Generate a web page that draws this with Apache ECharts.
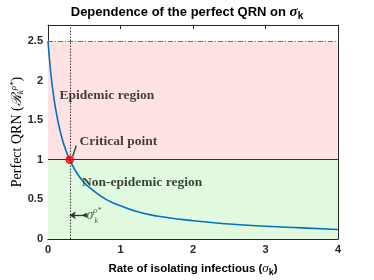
<!DOCTYPE html>
<html>
<head>
<meta charset="utf-8">
<script src="https://cdn.jsdelivr.net/npm/echarts@6/dist/echarts.min.js"></script>
<style>html,body{margin:0;padding:0;background:#fff}#c{width:374px;height:280px}</style>
</head>
<body>
<div id="c"></div>
<script>
// Values
const sigmaValues = [0, 0.025, 0.05, 0.075, 0.1, 0.15, 0.2, 0.25, 0.3, 0.4, 0.5, 0.6, 0.8, 1.0, 1.25, 1.5, 2.0, 2.5, 3.0, 3.5, 4.0];
const qrnValues   = [2.5, 2.22, 2.0, 1.82, 1.67, 1.43, 1.25, 1.11, 1.0, 0.83, 0.71, 0.63, 0.5, 0.42, 0.34, 0.29, 0.23, 0.19, 0.16, 0.14, 0.12];
const criticalPoint = [0.3, 1.0];
const upperLevel = 2.5;
const thresholdLevel = 1.0;
const xTickLabels = [0, 1, 2, 3, 4];
const yTickLabels = [0, 0.5, 1, 1.5, 2, 2.5];
const annotations = [
  { name: 'Epidemic region', value: [0.16, 1.81] },
  { name: 'Critical point', value: [0.435, 1.23] },
  { name: 'Non-epidemic region', value: [0.47, 0.71] }
];
const calloutLine = [[0.34, 1.04], [0.39, 1.18]];
const sigmaArrow = [[0.5, 0.3], [0.3, 0.3]];
const sigmaLabelPos = [0.53, 0.3];

const curve = sigmaValues.map((x, i) => [x, qrnValues[i]]);
const chart = echarts.init(document.getElementById('c'), null, { renderer: 'canvas' });
const axisColor = '#262626';
const sans = 'Liberation Sans';
const serif = 'Liberation Serif';

const yFmt = v => (yTickLabels.some(t => Math.abs(t - v) < 1e-9) ? String(v) : '');

chart.setOption({
  animation: false,
  title: {
    text: '{t|Dependence of the perfect QRN on }{s|σ}{k|k}',
    left: 'center', top: -2,
    textStyle: {
      rich: {
        t: { fontFamily: sans, fontWeight: 'bold', fontSize: 13, color: '#000' },
        s: { fontFamily: serif, fontStyle: 'italic', fontSize: 15, color: '#000' },
        k: { fontFamily: sans, fontWeight: 'bold', fontSize: 10, color: '#000', padding: [8, 0, 0, 0] }
      }
    }
  },
  grid: { left: 48, right: 36, top: 25, bottom: 41, containLabel: false, outerBoundsMode: 'none' },
  xAxis: [{
    type: 'value', min: 0, max: 4, interval: 1,
    name: '{t|Rate of isolating infectious (}{s|σ}{k|k}{t|)}',
    nameLocation: 'middle', nameGap: 22,
    nameTextStyle: {
      rich: {
        t: { fontFamily: sans, fontWeight: 'bold', fontSize: 11.5, color: '#000' },
        s: { fontFamily: serif, fontStyle: 'italic', fontSize: 13, color: '#000' },
        k: { fontFamily: sans, fontWeight: 'bold', fontSize: 9, color: '#000', padding: [7, 0, 0, 0] }
      }
    },
    axisLine: { show: true, onZero: false, lineStyle: { color: axisColor, width: 1 } },
    axisTick: { show: true, inside: true, length: 4, lineStyle: { color: axisColor } },
    axisLabel: { margin: 5, fontFamily: sans, fontWeight: 'bold', fontSize: 11, color: axisColor,
      formatter: v => (xTickLabels.includes(v) ? String(v) : '') },
    splitLine: { show: false }
  }, {
    type: 'value', min: 0, max: 4, interval: 1, position: 'top',
    axisLine: { show: true, onZero: false, lineStyle: { color: axisColor, width: 1 } },
    axisTick: { show: true, inside: true, length: 4, lineStyle: { color: axisColor } },
    axisLabel: { show: false }, splitLine: { show: false }
  }],
  yAxis: [{
    type: 'value', min: 0, max: 2.7, interval: 0.5,
    name: '{a|Perfect QRN (}{r|ℛ}{b|k}{c|ρ*}{a|)}',
    nameLocation: 'middle', nameGap: 22, nameRotate: 90, nameMoveOverlap: false,
    nameTextStyle: {
      rich: {
        a: { fontFamily: serif, fontSize: 14, color: '#000' },
        r: { fontFamily: serif, fontStyle: 'italic', fontSize: 14, color: '#000' },
        b: { fontFamily: serif, fontStyle: 'italic', fontSize: 9, color: '#000', padding: [7, 0, 0, 0] },
        c: { fontFamily: serif, fontStyle: 'italic', fontSize: 9, color: '#000', padding: [0, 0, 8, 0] }
      }
    },
    axisLine: { show: true, onZero: false, lineStyle: { color: axisColor, width: 1 } },
    axisTick: { show: true, inside: true, length: 4, lineStyle: { color: axisColor } },
    axisLabel: { margin: 5, fontFamily: sans, fontWeight: 'bold', fontSize: 11, color: axisColor, formatter: yFmt },
    splitLine: { show: false }
  }, {
    type: 'value', min: 0, max: 2.7, interval: 0.5, position: 'right',
    axisLine: { show: true, onZero: false, lineStyle: { color: axisColor, width: 1 } },
    axisTick: { show: true, inside: true, length: 4, lineStyle: { color: axisColor } },
    axisLabel: { show: false }, splitLine: { show: false }
  }],
  series: [
    {
      type: 'line', data: [], silent: true, z: 1,
      markArea: {
        silent: true,
        data: [
          [{ yAxis: thresholdLevel, itemStyle: { color: '#FFE3E3' } }, { yAxis: upperLevel }],
          [{ yAxis: 0, itemStyle: { color: '#E1FADF' } }, { yAxis: thresholdLevel }]
        ]
      },
      markLine: {
        silent: true, symbol: 'none', label: { show: false },
        data: [
          { yAxis: upperLevel, lineStyle: { color: '#707070', type: [5, 2, 1, 2], width: 1 } },
          { yAxis: thresholdLevel, lineStyle: { color: '#333', type: 'solid', width: 1.2 } },
          { xAxis: criticalPoint[0], lineStyle: { color: '#333', type: [1.5, 1.5], width: 1 } }
        ]
      }
    },
    {
      type: 'line', data: curve, smooth: true, showSymbol: false, z: 5,
      lineStyle: { color: '#0072BD', width: 1.6 }, itemStyle: { color: '#0072BD' },
      markLine: {
        silent: true, label: { show: false }, animation: false,
        data: [
          [{ coord: calloutLine[0], symbol: 'none' }, { coord: calloutLine[1], symbol: 'none' }],
          [{ coord: sigmaArrow[0], symbol: 'triangle', symbolSize: 5, symbolRotate: 90 },
           { coord: sigmaArrow[1], symbol: 'arrow', symbolSize: 6 }]
        ],
        lineStyle: { color: '#1f3a1f', type: 'solid', width: 1.3 }
      }
    },
    {
      type: 'scatter', data: [criticalPoint], symbolSize: 8, z: 6,
      itemStyle: { color: '#FF0000', borderColor: '#D00000', borderWidth: 0.5 }
    },
    {
      type: 'scatter', data: annotations, symbolSize: 0, z: 7, silent: true,
      label: {
        show: true, position: 'right', distance: 0, formatter: p => p.name,
        fontFamily: serif, fontWeight: 'bold', fontSize: 13.5, color: '#111'
      }
    },
    {
      type: 'scatter', data: [{ value: sigmaLabelPos }], symbolSize: 0, z: 7, silent: true,
      label: {
        show: true, position: 'right', distance: 0,
        formatter: '{s|σ}{c|ρ*}',
        rich: {
          s: { fontFamily: serif, fontStyle: 'italic', fontSize: 14, color: '#1f3a1f' },
          c: { fontFamily: serif, fontStyle: 'italic', fontSize: 8, color: '#1f3a1f', padding: [0, 0, 9, 0] }
        }
      }
    },
    {
      type: 'scatter', data: [{ value: [sigmaLabelPos[0] + 0.11, sigmaLabelPos[1] - 0.07] }], symbolSize: 0, z: 7, silent: true,
      label: {
        show: true, position: 'right', distance: 0, formatter: 'k',
        fontFamily: serif, fontStyle: 'italic', fontSize: 8, color: '#1f3a1f'
      }
    }
  ]
});
</script>
</body>
</html>
